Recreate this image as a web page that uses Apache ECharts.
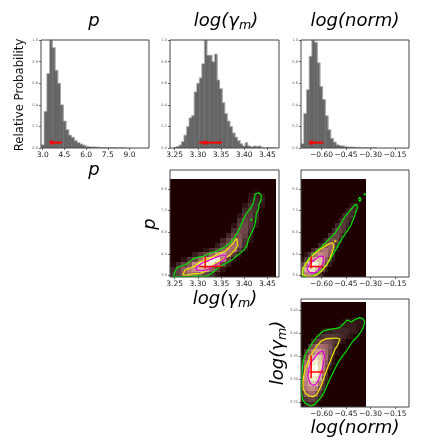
<!DOCTYPE html>
<html>
<head>
<meta charset="utf-8">
<script src="https://cdn.jsdelivr.net/npm/echarts@6/dist/echarts.min.js"></script>
<style>
html, body { margin: 0; padding: 0; background: #fff; }
#chart { width: 429px; height: 444px; }
</style>
</head>
<body>
<div id="chart"></div>
<script>
// tick labels
const pTicks = [3.0, 4.5, 6.0, 7.5, 9.0]
const gTicks = [3.25, 3.30, 3.35, 3.40, 3.45]
const nTicks = [-0.60, -0.45, -0.30, -0.15]
const probTicks = [0.0, 0.2, 0.4, 0.6, 0.8, 1.0]

// 1D histograms (relative probability per bin)
const pBinStart = 2.9, pBinWidth = 0.19
const pHist = [0.03, 0.34, 0.69, 1.0, 0.93, 0.72, 0.6, 0.4, 0.25, 0.17, 0.12, 0.1, 0.07, 0.05, 0.035, 0.025, 0.015, 0.012, 0.01, 0.01, 0.008, 0.006, 0.006, 0.005, 0.004, 0.004, 0.003, 0.003, 0.002, 0.002, 0.002]
const gBinStart = 3.248, gBinWidth = 0.0055
const gHist = [0.01, 0.015, 0.03, 0.06, 0.12, 0.2, 0.28, 0.3, 0.52, 0.6, 0.65, 0.78, 1.0, 0.86, 0.86, 0.8, 0.87, 0.63, 0.55, 0.42, 0.32, 0.25, 0.2, 0.14, 0.1, 0.07, 0.04, 0.02, 0.05, 0.02, 0.01, 0.02, 0.015, 0.02, 0.005, 0, 0.005, 0.004, 0.004, 0.003]
const nBinStart = -0.725, nBinWidth = 0.0165
const nHist = [0.04, 0.32, 0.54, 0.85, 1.0, 0.98, 0.79, 0.57, 0.45, 0.3, 0.17, 0.09, 0.056, 0.03, 0.02, 0.02, 0.012, 0.01, 0.01, 0.008, 0.006, 0.005, 0.004, 0.004, 0.003, 0.003, 0.002, 0.002]

// median with lower / upper bounds: [lo, med, hi]
const pStat = [3.5, 3.62, 4.33]
const gStat = [3.303, 3.316, 3.352]
const nStat = [-0.675, -0.663, -0.589]

// density grids (rows from bottom), cell origin and step in data units
const pgX0 = 3.24, pgDx = 0.012, pgY0 = 2.9, pgDy = 0.34
const densPG = [
  [0.06, 0.1, 0.2, 0.28, 0.25, 0.18, 0.12, 0.05, 0.02, 0, 0, 0, 0, 0, 0, 0, 0, 0, 0],
  [0.04, 0.1, 0.2, 0.32, 0.42, 0.55, 0.45, 0.2, 0.08, 0.02, 0, 0, 0, 0, 0, 0, 0, 0, 0],
  [0.01, 0.04, 0.1, 0.18, 0.4, 0.7, 0.85, 0.8, 0.35, 0.1, 0.03, 0, 0, 0, 0, 0, 0, 0, 0],
  [0, 0, 0.02, 0.06, 0.12, 0.25, 0.5, 0.95, 0.8, 0.35, 0.1, 0.02, 0, 0, 0, 0, 0, 0, 0],
  [0, 0, 0, 0, 0.03, 0.06, 0.12, 0.25, 0.4, 0.45, 0.25, 0.08, 0.02, 0, 0, 0, 0, 0, 0],
  [0, 0, 0, 0, 0, 0, 0.02, 0.05, 0.1, 0.2, 0.3, 0.25, 0.08, 0.02, 0, 0, 0, 0, 0],
  [0, 0, 0, 0, 0, 0, 0, 0, 0.03, 0.08, 0.18, 0.28, 0.15, 0.05, 0, 0, 0, 0, 0],
  [0, 0, 0, 0, 0, 0, 0, 0, 0, 0.04, 0.1, 0.2, 0.18, 0.06, 0.02, 0, 0, 0, 0],
  [0, 0, 0, 0, 0, 0, 0, 0, 0, 0, 0.04, 0.1, 0.15, 0.1, 0.03, 0, 0, 0, 0],
  [0, 0, 0, 0, 0, 0, 0, 0, 0, 0, 0, 0.05, 0.12, 0.12, 0.05, 0, 0, 0, 0],
  [0, 0, 0, 0, 0, 0, 0, 0, 0, 0, 0, 0.02, 0.08, 0.12, 0.07, 0.02, 0, 0, 0],
  [0, 0, 0, 0, 0, 0, 0, 0, 0, 0, 0, 0, 0.05, 0.1, 0.08, 0.03, 0, 0, 0],
  [0, 0, 0, 0, 0, 0, 0, 0, 0, 0, 0, 0, 0.02, 0.07, 0.08, 0.04, 0, 0, 0],
  [0, 0, 0, 0, 0, 0, 0, 0, 0, 0, 0, 0, 0, 0.04, 0.07, 0.05, 0, 0, 0],
  [0, 0, 0, 0, 0, 0, 0, 0, 0, 0, 0, 0, 0, 0.02, 0.05, 0.05, 0.02, 0, 0],
  [0, 0, 0, 0, 0, 0, 0, 0, 0, 0, 0, 0, 0, 0, 0.03, 0.04, 0.03, 0, 0],
  [0, 0, 0, 0, 0, 0, 0, 0, 0, 0, 0, 0, 0, 0, 0.02, 0.03, 0.02, 0, 0],
  [0, 0, 0, 0, 0, 0, 0, 0, 0, 0, 0, 0, 0, 0, 0, 0.01, 0, 0, 0],
  [0, 0, 0, 0, 0, 0, 0, 0, 0, 0, 0, 0, 0, 0, 0, 0, 0, 0, 0],
  [0, 0, 0, 0, 0, 0, 0, 0, 0, 0, 0, 0, 0, 0, 0, 0, 0, 0, 0]
]
const pnX0 = -0.725, pnDx = 0.021, pnY0 = 2.9, pnDy = 0.34
const densPN = [
  [0.25, 0.35, 0.4, 0.35, 0.2, 0.06, 0.02, 0, 0, 0, 0, 0, 0, 0, 0, 0, 0, 0, 0],
  [0.3, 0.5, 0.7, 0.75, 0.6, 0.3, 0.1, 0.03, 0, 0, 0, 0, 0, 0, 0, 0, 0, 0, 0],
  [0.12, 0.3, 0.7, 0.95, 0.9, 0.6, 0.3, 0.1, 0.03, 0, 0, 0, 0, 0, 0, 0, 0, 0, 0],
  [0.02, 0.08, 0.25, 0.45, 0.65, 0.6, 0.45, 0.2, 0.06, 0.02, 0, 0, 0, 0, 0, 0, 0, 0, 0],
  [0, 0.02, 0.06, 0.2, 0.3, 0.4, 0.35, 0.3, 0.18, 0.05, 0, 0, 0, 0, 0, 0, 0, 0, 0],
  [0, 0, 0, 0.04, 0.1, 0.22, 0.3, 0.3, 0.22, 0.1, 0.02, 0, 0, 0, 0, 0, 0, 0, 0],
  [0, 0, 0, 0, 0, 0.04, 0.1, 0.18, 0.22, 0.2, 0.06, 0, 0, 0, 0, 0, 0, 0, 0],
  [0, 0, 0, 0, 0, 0, 0.02, 0.06, 0.12, 0.15, 0.1, 0.03, 0, 0, 0, 0, 0, 0, 0],
  [0, 0, 0, 0, 0, 0, 0, 0, 0.05, 0.1, 0.12, 0.08, 0.02, 0, 0, 0, 0, 0, 0],
  [0, 0, 0, 0, 0, 0, 0, 0, 0, 0.04, 0.09, 0.1, 0.06, 0.02, 0, 0, 0, 0, 0],
  [0, 0, 0, 0, 0, 0, 0, 0, 0, 0, 0.04, 0.08, 0.08, 0.04, 0, 0, 0, 0, 0],
  [0, 0, 0, 0, 0, 0, 0, 0, 0, 0, 0, 0.04, 0.07, 0.06, 0.03, 0, 0, 0, 0],
  [0, 0, 0, 0, 0, 0, 0, 0, 0, 0, 0, 0, 0.04, 0.06, 0.05, 0.02, 0, 0, 0],
  [0, 0, 0, 0, 0, 0, 0, 0, 0, 0, 0, 0, 0, 0.03, 0.05, 0.04, 0, 0, 0],
  [0, 0, 0, 0, 0, 0, 0, 0, 0, 0, 0, 0, 0, 0, 0.02, 0.03, 0.02, 0, 0],
  [0, 0, 0, 0, 0, 0, 0, 0, 0, 0, 0, 0, 0, 0, 0, 0, 0.01, 0.01, 0],
  [0, 0, 0, 0, 0, 0, 0, 0, 0, 0, 0, 0, 0, 0, 0, 0, 0, 0, 0],
  [0, 0, 0, 0, 0, 0, 0, 0, 0, 0, 0, 0, 0, 0, 0, 0, 0, 0, 0],
  [0, 0, 0, 0, 0, 0, 0, 0, 0, 0, 0, 0, 0, 0, 0, 0, 0, 0, 0],
  [0, 0, 0, 0, 0, 0, 0, 0, 0, 0, 0, 0, 0, 0, 0, 0, 0, 0, 0]
]
const gnX0 = -0.725, gnDx = 0.021, gnY0 = 3.24, gnDy = 0.0114
const densGN = [
  [0, 0.03, 0.05, 0.04, 0.02, 0, 0, 0, 0, 0, 0, 0, 0, 0, 0, 0, 0, 0, 0],
  [0.03, 0.07, 0.1, 0.1, 0.06, 0.02, 0, 0, 0, 0, 0, 0, 0, 0, 0, 0, 0, 0, 0],
  [0.08, 0.18, 0.25, 0.25, 0.15, 0.06, 0.02, 0, 0, 0, 0, 0, 0, 0, 0, 0, 0, 0, 0],
  [0.12, 0.3, 0.38, 0.4, 0.32, 0.15, 0.05, 0, 0, 0, 0, 0, 0, 0, 0, 0, 0, 0, 0],
  [0.15, 0.35, 0.5, 0.62, 0.55, 0.28, 0.08, 0.02, 0, 0, 0, 0, 0, 0, 0, 0, 0, 0, 0],
  [0.15, 0.4, 0.65, 0.8, 0.75, 0.5, 0.15, 0.04, 0, 0, 0, 0, 0, 0, 0, 0, 0, 0, 0],
  [0.12, 0.38, 0.7, 0.9, 0.9, 0.65, 0.25, 0.06, 0, 0, 0, 0, 0, 0, 0, 0, 0, 0, 0],
  [0.1, 0.33, 0.65, 0.9, 1.0, 0.7, 0.35, 0.12, 0.03, 0, 0, 0, 0, 0, 0, 0, 0, 0, 0],
  [0.06, 0.25, 0.5, 0.8, 0.85, 0.65, 0.4, 0.18, 0.05, 0.02, 0, 0, 0, 0, 0, 0, 0, 0, 0],
  [0.03, 0.15, 0.35, 0.55, 0.7, 0.6, 0.45, 0.25, 0.08, 0.03, 0, 0, 0, 0, 0, 0, 0, 0, 0],
  [0, 0.06, 0.2, 0.35, 0.45, 0.45, 0.35, 0.25, 0.12, 0.05, 0.02, 0, 0, 0, 0, 0, 0, 0, 0],
  [0, 0, 0.06, 0.15, 0.25, 0.28, 0.26, 0.22, 0.15, 0.07, 0.03, 0, 0, 0, 0, 0, 0, 0, 0],
  [0, 0, 0, 0.04, 0.08, 0.12, 0.14, 0.14, 0.12, 0.08, 0.05, 0.03, 0.02, 0, 0, 0, 0, 0, 0],
  [0, 0, 0, 0, 0.02, 0.04, 0.06, 0.07, 0.07, 0.07, 0.06, 0.05, 0.04, 0.03, 0.02, 0, 0, 0, 0],
  [0, 0, 0, 0, 0, 0, 0.02, 0.03, 0.03, 0.04, 0.04, 0.04, 0.04, 0.04, 0.03, 0.03, 0.02, 0, 0],
  [0, 0, 0, 0, 0, 0, 0, 0, 0, 0, 0, 0.02, 0.03, 0.03, 0.03, 0.03, 0.02, 0.02, 0],
  [0, 0, 0, 0, 0, 0, 0, 0, 0, 0, 0, 0, 0.01, 0.02, 0.02, 0.02, 0.02, 0.02, 0],
  [0, 0, 0, 0, 0, 0, 0, 0, 0, 0, 0, 0, 0, 0, 0, 0, 0, 0, 0],
  [0, 0, 0, 0, 0, 0, 0, 0, 0, 0, 0, 0, 0, 0, 0, 0, 0, 0, 0],
  [0, 0, 0, 0, 0, 0, 0, 0, 0, 0, 0, 0, 0, 0, 0, 0, 0, 0, 0]
]

// contours [x, y]
const pgGreen = [[3.2479, 2.93], [3.2515, 3.36], [3.2565, 3.59], [3.2695, 3.71], [3.2767, 3.82], [3.291, 4.17], [3.3018, 4.28], [3.3126, 4.33], [3.327, 4.56], [3.3413, 4.70], [3.3557, 4.93], [3.3665, 5.16], [3.3773, 5.55], [3.3845, 5.90], [3.3916, 6.36], [3.3974, 6.82], [3.4046, 7.28], [3.4132, 7.63], [3.419, 7.97], [3.4218, 8.32], [3.424, 8.66], [3.4312, 8.73], [3.4369, 8.55], [3.4362, 8.20], [3.4319, 7.93], [3.4312, 7.63], [3.4261, 7.28], [3.4247, 6.82], [3.4218, 6.36], [3.4168, 6.01], [3.4096, 5.55], [3.406, 5.09], [3.3988, 4.74], [3.388, 4.47], [3.3773, 4.17], [3.3665, 3.94], [3.3521, 3.71], [3.3413, 3.48], [3.3306, 3.18], [3.3234, 3.02], [3.3126, 2.93], [3.2982, 2.98], [3.2838, 2.95], [3.2695, 2.93], [3.2551, 2.93], [3.2479, 2.93]]
const pgYellow = [[3.268, 3.04], [3.2723, 3.38], [3.2838, 3.52], [3.2939, 3.66], [3.3047, 3.96], [3.3191, 4.10], [3.3334, 4.31], [3.3478, 4.54], [3.3593, 4.70], [3.3694, 5.00], [3.3773, 5.30], [3.3837, 5.57], [3.3873, 5.46], [3.3866, 5.11], [3.3809, 4.81], [3.3701, 4.44], [3.3586, 4.19], [3.3442, 3.94], [3.3334, 3.71], [3.3234, 3.48], [3.3155, 3.27], [3.3047, 3.15], [3.2903, 3.11], [3.2759, 3.04], [3.268, 3.04]]
const pgMagenta = [[3.2953, 3.52], [3.2975, 3.61], [3.3083, 3.85], [3.3226, 4.03], [3.3334, 4.19], [3.3478, 4.35], [3.3586, 4.42], [3.3607, 4.26], [3.355, 4.08], [3.3442, 3.85], [3.3298, 3.61], [3.3191, 3.38], [3.3083, 3.34], [3.2975, 3.38], [3.2953, 3.52]]
const pgGreenDots = [[3.4154, 6.86]]

const pnGreen = [[-0.7148, 2.95], [-0.7107, 3.48], [-0.6985, 3.82], [-0.6781, 4.17], [-0.6517, 4.47], [-0.6252, 4.74], [-0.5966, 5.02], [-0.5702, 5.32], [-0.5437, 5.62], [-0.5192, 5.90], [-0.4988, 6.24], [-0.4785, 6.63], [-0.4581, 7.05], [-0.4377, 7.33], [-0.4173, 7.60], [-0.401, 7.83], [-0.3847, 7.93], [-0.3807, 7.69], [-0.3929, 7.28], [-0.4072, 6.82], [-0.4235, 6.40], [-0.4479, 6.01], [-0.4744, 5.55], [-0.4948, 5.16], [-0.5151, 4.74], [-0.5355, 4.33], [-0.5559, 3.94], [-0.5803, 3.59], [-0.6048, 3.29], [-0.6313, 3.08], [-0.6618, 2.95], [-0.6924, 2.92], [-0.7148, 2.95]]
const pnGreenLoop = [[-0.374, 8.27], [-0.366, 8.42], [-0.358, 8.27], [-0.366, 8.12], [-0.374, 8.27]]
const pnGreenDots = [[-0.3358, 8.62]]
const pnYellow = [[-0.7169, 3.08], [-0.7128, 3.48], [-0.6924, 3.87], [-0.6659, 4.24], [-0.6374, 4.56], [-0.6048, 4.84], [-0.5722, 5.07], [-0.5437, 5.25], [-0.5314, 5.27], [-0.5253, 5.02], [-0.5335, 4.63], [-0.5477, 4.21], [-0.5661, 3.78], [-0.5905, 3.41], [-0.617, 3.13], [-0.6517, 2.95], [-0.6863, 2.93], [-0.7169, 3.08]]
const pnYellowDots = [[-0.5152, 5.39]]
const pnMagenta = [[-0.6863, 3.48], [-0.672, 3.82], [-0.6415, 4.10], [-0.6109, 4.33], [-0.5905, 4.33], [-0.5844, 4.05], [-0.5966, 3.71], [-0.617, 3.41], [-0.6415, 3.18], [-0.6659, 3.18], [-0.6822, 3.31], [-0.6863, 3.48]]

const gnGreen = [[-0.6618, 3.3764], [-0.6313, 3.3909], [-0.5905, 3.4054], [-0.5498, 3.4089], [-0.5192, 3.4104], [-0.4887, 3.4126], [-0.4581, 3.4235], [-0.4418, 3.4293], [-0.4173, 3.4249], [-0.3929, 3.4308], [-0.3664, 3.4344], [-0.342, 3.4308], [-0.3358, 3.4235], [-0.346, 3.4126], [-0.3562, 3.4054], [-0.3766, 3.3945], [-0.4072, 3.3836], [-0.4275, 3.3727], [-0.4479, 3.3618], [-0.4785, 3.3473], [-0.4988, 3.3365], [-0.5192, 3.322], [-0.5396, 3.3074], [-0.56, 3.2915], [-0.5803, 3.2749], [-0.5966, 3.2639], [-0.617, 3.2552], [-0.6415, 3.2458], [-0.6659, 3.2422], [-0.6863, 3.2458], [-0.7026, 3.2494], [-0.7148, 3.2567], [-0.723, 3.2712], [-0.723, 3.2929], [-0.7189, 3.3147], [-0.7128, 3.3365], [-0.7026, 3.351], [-0.6863, 3.3618], [-0.672, 3.3691], [-0.6618, 3.3764]]
const gnYellow = [[-0.6007, 3.3836], [-0.5702, 3.3887], [-0.5396, 3.3894], [-0.509, 3.3901], [-0.4866, 3.3879], [-0.4988, 3.3764], [-0.5172, 3.3655], [-0.5335, 3.351], [-0.5498, 3.3365], [-0.5681, 3.3204], [-0.5844, 3.3038], [-0.6007, 3.2871], [-0.617, 3.2749], [-0.6313, 3.266], [-0.6517, 3.2625], [-0.6761, 3.2639], [-0.6985, 3.2697], [-0.7107, 3.2784], [-0.7128, 3.2929], [-0.7087, 3.3074], [-0.6965, 3.3256], [-0.6781, 3.3422], [-0.6578, 3.3567], [-0.6313, 3.3712], [-0.6007, 3.3836]]
const gnMagenta = [[-0.6292, 3.3531], [-0.6089, 3.3597], [-0.5926, 3.3618], [-0.5803, 3.351], [-0.5885, 3.3328], [-0.6007, 3.3161], [-0.615, 3.3016], [-0.6313, 3.29], [-0.6517, 3.2871], [-0.672, 3.2929], [-0.6822, 3.3059], [-0.6781, 3.3204], [-0.6618, 3.338], [-0.6292, 3.3531]]

// matplotlib "pink" colormap stops
const pinkStops = [[0, 30, 0, 0], [0.05, 72, 47, 47], [0.1, 101, 66, 66], [0.2, 143, 93, 93], [0.3, 176, 114, 114], [0.4, 198, 139, 132], [0.5, 208, 171, 147], [0.6, 218, 198, 161], [0.8, 237, 237, 198], [1, 255, 255, 255]]
function pink(v) {
  for (let i = 1; i < pinkStops.length; i++) {
    const a = pinkStops[i - 1], b = pinkStops[i]
    if (v <= b[0]) {
      const t = (v - a[0]) / (b[0] - a[0])
      return 'rgb(' + [1, 2, 3].map(k => Math.round(a[k] + t * (b[k] - a[k]))).join(',') + ')'
    }
  }
  return '#fff'
}

const FONT = 'DejaVu Sans'
const fmt1 = v => v.toFixed(1)
const fmt2 = v => v.toFixed(2)
const fmtN = v => (v < 0 ? '\u2212' : '') + Math.abs(v).toFixed(2)

function axis(grid, min, max, ticks, fmt, small) {
  return {
    type: 'value', gridIndex: grid, min: min, max: max,
    splitLine: { show: false },
    axisLine: { show: false },
    axisTick: { show: true, customValues: ticks, length: 2, lineStyle: { color: '#444', width: 0.8 } },
    axisLabel: small
      ? { customValues: ticks, formatter: fmt, fontSize: 3.6, color: '#666', margin: 3, fontFamily: FONT }
      : { customValues: ticks, formatter: fmt, fontSize: 7.5, color: '#222', margin: 3, fontFamily: FONT }
  }
}

function histSeries(idx, start, width, heights) {
  const bars = heights.map((h, i) => [start + i * width, start + (i + 1) * width, h])
  const outline = [[start, 0]].concat(heights.map((h, i) => [start + i * width, h]))
  outline.push([start + heights.length * width, heights[heights.length - 1]], [start + heights.length * width, 0])
  return [
    {
      type: 'custom', xAxisIndex: idx, yAxisIndex: idx, data: bars, silent: true, z: 2,
      renderItem: function (params, api) {
        const a = api.coord([api.value(0), api.value(2)])
        const b = api.coord([api.value(1), 0])
        return { type: 'rect', shape: { x: a[0], y: a[1], width: b[0] - a[0] + 0.4, height: b[1] - a[1] }, style: { fill: '#666' } }
      }
    },
    { type: 'line', xAxisIndex: idx, yAxisIndex: idx, data: outline, step: 'end', symbol: 'none', silent: true, z: 3, lineStyle: { color: '#b5b5b5', width: 0.8 } }
  ]
}

function errBar(idx, s) {
  return [
    { type: 'line', xAxisIndex: idx, yAxisIndex: idx, data: [[s[0], 0.05], [s[2], 0.05]], symbol: 'none', silent: true, z: 4, lineStyle: { color: '#ff0000', width: 2 } },
    { type: 'scatter', xAxisIndex: idx, yAxisIndex: idx, data: [[s[1], 0.05]], symbol: 'rect', symbolSize: 4, silent: true, z: 5, itemStyle: { color: '#ff0000' } }
  ]
}

// cells snapped to whole pixels so neighbours share edges (no seams)
function densitySeries(idx, rows, x0, dx, y0, dy) {
  const cells = []
  rows.forEach((row, r) => row.forEach((v, c) => cells.push([x0 + (c + 0.5) * dx, y0 + (r + 0.5) * dy, v])))
  return {
    type: 'custom', xAxisIndex: idx, yAxisIndex: idx, data: cells, silent: true, z: 1,
    renderItem: function (params, api) {
      const a = api.coord([api.value(0) - dx / 2, api.value(1) + dy / 2])
      const b = api.coord([api.value(0) + dx / 2, api.value(1) - dy / 2])
      const x = Math.round(a[0]), y = Math.round(a[1])
      return { type: 'rect', shape: { x: x, y: y, width: Math.round(b[0]) - x, height: Math.round(b[1]) - y }, style: { fill: pink(api.value(2)) } }
    }
  }
}

function contour(idx, pts, color) {
  return { type: 'line', xAxisIndex: idx, yAxisIndex: idx, data: pts, symbol: 'none', silent: true, z: 3, lineStyle: { color: color, width: 1.2 } }
}

function dots(idx, pts, color) {
  return { type: 'scatter', xAxisIndex: idx, yAxisIndex: idx, data: pts, symbol: 'circle', symbolSize: 2.5, silent: true, z: 3, itemStyle: { color: color } }
}

function cross(idx, xs, ys) {
  return [
    { type: 'line', xAxisIndex: idx, yAxisIndex: idx, data: [[xs[0], ys[1]], [xs[2], ys[1]]], symbol: 'none', silent: true, z: 4, lineStyle: { color: '#ff0000', width: 1.5 } },
    { type: 'line', xAxisIndex: idx, yAxisIndex: idx, data: [[xs[1], ys[0]], [xs[1], ys[2]]], symbol: 'none', silent: true, z: 4, lineStyle: { color: '#ff0000', width: 1.5 } }
  ]
}

const GREEN = '#00e600', YELLOW = '#f2e600', MAGENTA = '#e000e0'

function gridBox(left, top, width, height) {
  return { left: left, top: top, width: width, height: height, show: true, z: 10, backgroundColor: 'rgba(0,0,0,0)', borderColor: '#444', borderWidth: 1, outerBoundsMode: 'none' }
}

const math = { fontStyle: 'italic', fontFamily: FONT, fontSize: 18, lineHeight: 22, color: '#111' }
const mathSub = { fontStyle: 'italic', fontFamily: FONT, fontSize: 12.6, lineHeight: 10, verticalAlign: 'bottom', color: '#111' }
function label(x, y, text, rotation) {
  return { type: 'text', x: x, y: y, rotation: rotation || 0, silent: true, style: { text: text, align: 'center', verticalAlign: 'middle', rich: { a: math, b: mathSub } } }
}

let myChart = echarts.init(document.getElementById('chart'))
myChart.setOption({
  animation: false,
  backgroundColor: '#fff',
  grid: [
    gridBox(41, 40, 108, 108),
    gridBox(170, 40, 109, 108),
    gridBox(301, 40, 108, 108),
    gridBox(170, 170, 109, 107),
    gridBox(301, 170, 108, 107),
    gridBox(301, 299, 108, 108)
  ],
  xAxis: [
    axis(0, 2.88, 10.35, pTicks, fmt1),
    axis(1, 3.24, 3.475, gTicks, fmt2),
    axis(2, -0.725, -0.065, nTicks, fmtN),
    axis(3, 3.24, 3.475, gTicks, fmt2),
    axis(4, -0.725, -0.065, nTicks, fmtN),
    axis(5, -0.725, -0.065, nTicks, fmtN)
  ],
  yAxis: [
    axis(0, 0, 1, probTicks, fmt1, true),
    axis(1, 0, 1, probTicks, fmt1, true),
    axis(2, 0, 1, probTicks, fmt1, true),
    axis(3, 2.9, 10.3, pTicks, fmt1, true),
    axis(4, 2.9, 10.3, pTicks, fmt1, true),
    axis(5, 3.24, 3.475, gTicks, fmt2, true)
  ],
  graphic: [
    label(94, 21, '{a|p}'),
    label(226, 21, '{a|log(γ}{b|m}{a|)}'),
    label(355, 21, '{a|log(norm)}'),
    label(94, 170, '{a|p}'),
    label(225, 299, '{a|log(γ}{b|m}{a|)}'),
    label(355, 428, '{a|log(norm)}'),
    label(150, 224, '{a|p}', Math.PI / 2),
    label(278, 353, '{a|log(γ}{b|m}{a|)}', Math.PI / 2),
    { type: 'text', x: 20, y: 95, rotation: Math.PI / 2, silent: true, style: { text: 'Relative Probability', fontFamily: FONT, fontSize: 11.7, fill: '#111', align: 'center', verticalAlign: 'middle' } }
  ],
  series: [].concat(
    histSeries(0, pBinStart, pBinWidth, pHist), errBar(0, pStat),
    histSeries(1, gBinStart, gBinWidth, gHist), errBar(1, gStat),
    histSeries(2, nBinStart, nBinWidth, nHist), errBar(2, nStat),
    [densitySeries(3, densPG, pgX0, pgDx, pgY0, pgDy),
      contour(3, pgGreen, GREEN), contour(3, pgYellow, YELLOW), contour(3, pgMagenta, MAGENTA), dots(3, pgGreenDots, GREEN)],
    cross(3, gStat, pStat),
    [densitySeries(4, densPN, pnX0, pnDx, pnY0, pnDy),
      contour(4, pnGreen, GREEN), contour(4, pnGreenLoop, GREEN), contour(4, pnYellow, YELLOW), contour(4, pnMagenta, MAGENTA),
      dots(4, pnGreenDots, GREEN), dots(4, pnYellowDots, YELLOW)],
    cross(4, nStat, pStat),
    [densitySeries(5, densGN, gnX0, gnDx, gnY0, gnDy),
      contour(5, gnGreen, GREEN), contour(5, gnYellow, YELLOW), contour(5, gnMagenta, MAGENTA)],
    cross(5, nStat, gStat)
  )
})
</script>
</body>
</html>
